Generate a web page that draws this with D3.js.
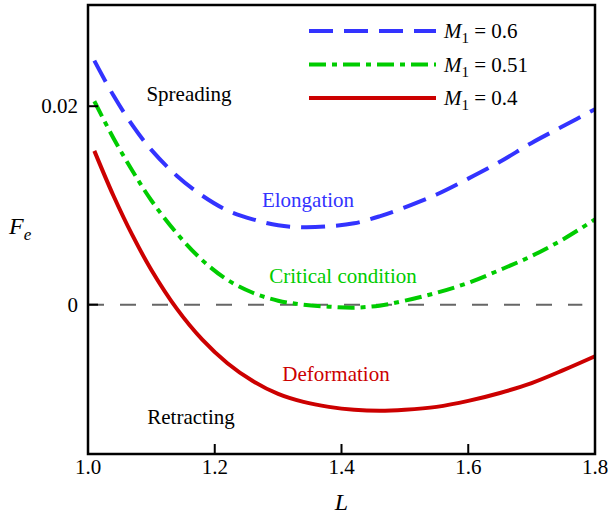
<!DOCTYPE html>
<html>
  <head>
    <meta charset="utf-8">
    <script src="https://cdn.jsdelivr.net/npm/d3@7"></script>
    <style>
      body { margin: 0; background: #fff; }
      text { font-family: "Liberation Serif", "DejaVu Serif", serif; }
    </style>
  </head>
  <body>
    <svg width="608" height="517"></svg>
    <script>
      // L values shared by all curves
      var L = [1.01, 1.04, 1.07, 1.10, 1.14, 1.18, 1.22, 1.26, 1.30, 1.34,
               1.38, 1.42, 1.46, 1.50, 1.55, 1.60, 1.65, 1.70, 1.75, 1.80];
      var fe06 = [0.0246, 0.0211, 0.0181, 0.0156, 0.0130, 0.0110, 0.0095, 0.0086, 0.0080, 0.0078,
                  0.0079, 0.0082, 0.0089, 0.0098, 0.0111, 0.0127, 0.0144, 0.0163, 0.0180, 0.0197];
      var fe051 = [0.0205, 0.0168, 0.0135, 0.0105, 0.0072, 0.0045, 0.0025, 0.0012, 0.0004, 0.0000,
                   -0.0002, -0.0003, -0.0001, 0.0004, 0.0012, 0.0022, 0.0035, 0.0049, 0.0066, 0.0086];
      var fe04 = [0.0155, 0.0110, 0.0070, 0.0035, -0.0004, -0.0035, -0.0059, -0.0077, -0.0090, -0.0098,
                  -0.0103, -0.0106, -0.0107, -0.0106, -0.0103, -0.0097, -0.0089, -0.0079, -0.0066, -0.0052];
      var xTicks = [1.0, 1.2, 1.4, 1.6, 1.8];
      var yTicks = [0, 0.02];
      var legendLabels = ['0.6', '0.51', '0.4'];

      var svg = d3.select('svg');
      var pLeft = 88, pRight = 595, pTop = 5, pBottom = 454;

      var x = d3.scaleLinear().domain([1.0, 1.8]).range([pLeft, pRight]);
      var y = d3.scaleLinear().domain([-0.01505, 0.0302]).range([pBottom, pTop]);

      var series = [
        { vals: fe06, color: '#3333ff', dash: '24,11' },
        { vals: fe051, color: '#00cc00', dash: '17,6,5,6' },
        { vals: fe04, color: '#cc0000', dash: null }
      ];

      // zero line
      svg.append('line')
        .attr('x1', x(1.0)).attr('x2', x(1.78))
        .attr('y1', y(0)).attr('y2', y(0))
        .attr('stroke', '#666').attr('stroke-width', 2)
        .attr('stroke-dasharray', '16,16');

      var line = d3.line()
        .x(function (d) { return x(d[0]); })
        .y(function (d) { return y(d[1]); })
        .curve(d3.curveCatmullRom);

      series.forEach(function (s) {
        svg.append('path')
          .attr('d', line(L.map(function (l, i) { return [l, s.vals[i]]; })))
          .attr('fill', 'none')
          .attr('stroke', s.color)
          .attr('stroke-width', 4)
          .attr('stroke-dasharray', s.dash);
      });

      // frame
      svg.append('rect')
        .attr('x', pLeft).attr('y', pTop)
        .attr('width', pRight - pLeft).attr('height', pBottom - pTop)
        .attr('fill', 'none').attr('stroke', '#000').attr('stroke-width', 2.5);

      // ticks
      xTicks.forEach(function (t) {
        svg.append('line')
          .attr('x1', x(t)).attr('x2', x(t))
          .attr('y1', pBottom).attr('y2', pBottom - 10)
          .attr('stroke', '#000').attr('stroke-width', 2);
        svg.append('text')
          .attr('x', x(t)).attr('y', pBottom + 20)
          .attr('text-anchor', 'middle').attr('font-size', 21)
          .text(d3.format('.1f')(t));
      });
      yTicks.forEach(function (t) {
        svg.append('line')
          .attr('x1', pLeft).attr('x2', pLeft + 10)
          .attr('y1', y(t)).attr('y2', y(t))
          .attr('stroke', '#000').attr('stroke-width', 2);
        svg.append('text')
          .attr('x', pLeft - 10).attr('y', y(t) + 7)
          .attr('text-anchor', 'end').attr('font-size', 21)
          .text(t === 0 ? '0' : t);
      });

      // axis titles
      svg.append('text')
        .attr('x', x(1.4)).attr('y', 510)
        .attr('text-anchor', 'middle').attr('font-size', 24)
        .attr('font-style', 'italic').text('L');
      var fe = svg.append('text')
        .attr('x', 9).attr('y', 234).attr('font-size', 24);
      fe.append('tspan').attr('font-style', 'italic').text('F');
      fe.append('tspan').attr('font-style', 'italic').attr('font-size', 17)
        .attr('dy', 6).text('e');

      // legend
      series.forEach(function (s, i) {
        var ly = 31 + i * 33.5;
        svg.append('line')
          .attr('x1', 309).attr('x2', 436)
          .attr('y1', ly).attr('y2', ly)
          .attr('stroke', s.color).attr('stroke-width', 4)
          .attr('stroke-dasharray', s.dash);
        var t = svg.append('text')
          .attr('x', 444).attr('y', ly + 7).attr('font-size', 21);
        t.append('tspan').attr('font-style', 'italic').text('M');
        t.append('tspan').attr('font-size', 15).attr('dy', 5).text('1');
        t.append('tspan').attr('dy', -5).text(' = ' + legendLabels[i]);
      });

      // region annotations
      var notes = [
        { text: 'Spreading', x: 189, y: 101, color: '#000' },
        { text: 'Elongation', x: 308, y: 207, color: '#3333ff' },
        { text: 'Critical condition', x: 343, y: 283, color: '#00cc00' },
        { text: 'Deformation', x: 336, y: 381, color: '#cc0000' },
        { text: 'Retracting', x: 191, y: 424, color: '#000' }
      ];
      notes.forEach(function (n) {
        svg.append('text')
          .attr('x', n.x).attr('y', n.y)
          .attr('text-anchor', 'middle').attr('font-size', 21)
          .attr('fill', n.color).text(n.text);
      });
    </script>
  </body>
</html>
